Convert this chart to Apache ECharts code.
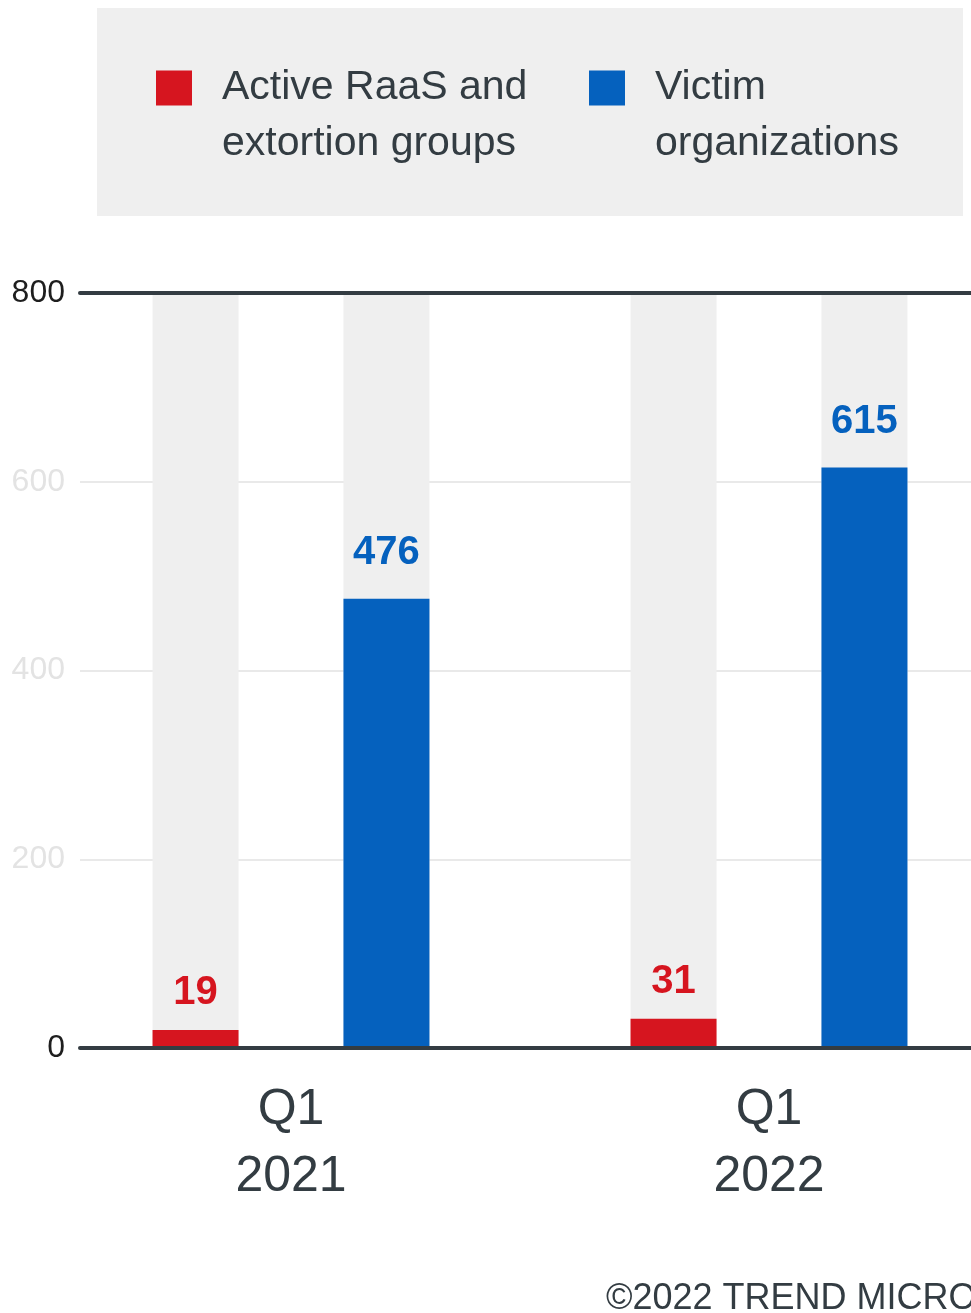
<!DOCTYPE html>
<html>
<head>
<meta charset="utf-8">
<script src="https://cdn.jsdelivr.net/npm/echarts@6/dist/echarts.min.js"></script>
<style>
html,body{margin:0;padding:0;background:#fff;}
#chart{width:971px;height:1313px;}
</style>
</head>
<body>
<div id="chart"></div>
<script>
const categories = ['Q1\n2021', 'Q1\n2022'];
const seriesNames = ['Active RaaS and\nextortion groups', 'Victim\norganizations'];
const groupValues = [19, 31];
const victimValues = [476, 615];
const yTicks = [0, 200, 400, 600, 800];
const seriesColors = ['#d6151f', '#0561be'];
const credit = '©2022 TREND MICRO';

const FONT = '"Liberation Sans", Arial, sans-serif';
const DARK = '#333c42';

const chart = echarts.init(document.getElementById('chart'), null, {renderer: 'canvas'});

function legendAt(left, name) {
  return {
    left: left, top: 4, padding: 0, orient: 'horizontal',
    icon: 'rect', itemWidth: 36, itemHeight: 35,
    formatter: '\n{name}',
    data: [name],
    textStyle: {fontFamily: FONT, fontSize: 41, color: DARK, lineHeight: 56, padding: [0, 0, 0, 25]}
  };
}

const option = {
  backgroundColor: '#ffffff',
  animation: false,
  textStyle: {fontFamily: FONT},
  graphic: [{
    type: 'rect', left: 97, top: 8, z: -10,
    shape: {width: 866, height: 208},
    style: {fill: '#efefef'}
  }],
  title: {
    text: credit, left: 601, top: 1276,
    textStyle: {fontFamily: FONT, fontSize: 36, fontWeight: 'normal', color: DARK}
  },
  legend: [legendAt(156, seriesNames[0]), legendAt(589, seriesNames[1])],
  grid: [
    {left: 52, width: 956, top: 293, bottom: 265, containLabel: false, outerBoundsMode: 'none'},
    {left: 80, width: 1000, top: 293, bottom: 265, containLabel: false, outerBoundsMode: 'none'}
  ],
  xAxis: [
    {
      type: 'category', gridIndex: 0, data: categories,
      axisLine: {show: false}, axisTick: {show: false},
      axisLabel: {fontFamily: FONT, fontSize: 50, color: DARK, lineHeight: 67, margin: 29}
    },
    {
      type: 'value', gridIndex: 1, min: 0, max: 1, position: 'bottom', z: 10,
      axisLine: {show: true, onZero: false, lineStyle: {color: DARK, width: 4}},
      axisTick: {show: false}, axisLabel: {show: false}, splitLine: {show: false}
    },
    {
      type: 'value', gridIndex: 1, min: 0, max: 1, position: 'top', z: 10,
      axisLine: {show: true, onZero: false, lineStyle: {color: DARK, width: 4}},
      axisTick: {show: false}, axisLabel: {show: false}, splitLine: {show: false}
    }
  ],
  yAxis: [
    {type: 'value', gridIndex: 0, min: 0, max: 800, interval: 200, show: false},
    {
      type: 'value', gridIndex: 1, min: yTicks[0], max: yTicks[yTicks.length - 1], interval: 200,
      axisLine: {show: false}, axisTick: {show: false},
      splitLine: {show: true, lineStyle: {color: '#e9e9e9', width: 2}},
      axisLabel: {
        fontFamily: FONT, fontSize: 32, margin: 15,
        color: function (v) { return (Number(v) === 0 || Number(v) === 800) ? '#1e1e1e' : '#e3e3e3'; }
      }
    }
  ],
  series: [
    {
      name: seriesNames[0], type: 'bar', xAxisIndex: 0, yAxisIndex: 0,
      data: groupValues, barWidth: 86, barGap: '122%',
      itemStyle: {color: seriesColors[0]},
      showBackground: true, backgroundStyle: {color: '#efefef'},
      label: {show: true, position: 'top', distance: 17, fontFamily: FONT, fontSize: 40, fontWeight: 'bold', color: seriesColors[0]}
    },
    {
      name: seriesNames[1], type: 'bar', xAxisIndex: 0, yAxisIndex: 0,
      data: victimValues, barWidth: 86,
      itemStyle: {color: seriesColors[1]},
      showBackground: true, backgroundStyle: {color: '#efefef'},
      label: {show: true, position: 'top', distance: 26, fontFamily: FONT, fontSize: 40, fontWeight: 'bold', color: seriesColors[1]}
    }
  ]
};
chart.setOption(option);
</script>
</body>
</html>
